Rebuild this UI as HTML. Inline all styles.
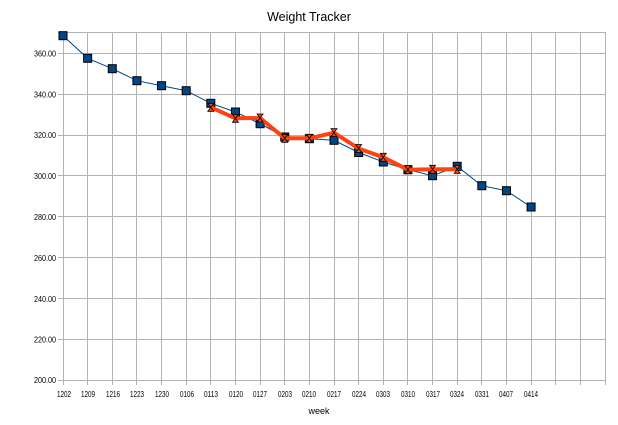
<!DOCTYPE html>
<html><head><meta charset="utf-8"><style>
html,body{margin:0;padding:0;background:#fff;}
svg{display:block;}
text{font-family:"Liberation Sans",sans-serif;fill:#000;}
</style></head><body>
<svg width="618" height="425" viewBox="0 0 618 425" xmlns="http://www.w3.org/2000/svg">
<rect width="618" height="425" fill="#fff"/>
<text x="309" y="21" font-size="12.5" text-anchor="middle">Weight Tracker</text>
<g stroke="#b3b3b3" stroke-width="1" fill="none" shape-rendering="crispEdges">
<!-- horizontal gridlines -->
<line x1="58" y1="32.5" x2="605" y2="32.5"/>
<line x1="58" y1="53.5" x2="605" y2="53.5"/>
<line x1="58" y1="94.5" x2="605" y2="94.5"/>
<line x1="58" y1="135.5" x2="605" y2="135.5"/>
<line x1="58" y1="175.5" x2="605" y2="175.5"/>
<line x1="58" y1="216.5" x2="605" y2="216.5"/>
<line x1="58" y1="257.5" x2="605" y2="257.5"/>
<line x1="58" y1="298.5" x2="605" y2="298.5"/>
<line x1="58" y1="339.5" x2="605" y2="339.5"/>
<line x1="58" y1="380.5" x2="605" y2="380.5"/>
<!-- vertical gridlines -->
<line x1="63.5" y1="32" x2="63.5" y2="385"/>
<line x1="87.5" y1="32" x2="87.5" y2="385"/>
<line x1="112.5" y1="32" x2="112.5" y2="385"/>
<line x1="136.5" y1="32" x2="136.5" y2="385"/>
<line x1="161.5" y1="32" x2="161.5" y2="385"/>
<line x1="186.5" y1="32" x2="186.5" y2="385"/>
<line x1="210.5" y1="32" x2="210.5" y2="385"/>
<line x1="235.5" y1="32" x2="235.5" y2="385"/>
<line x1="260.5" y1="32" x2="260.5" y2="385"/>
<line x1="284.5" y1="32" x2="284.5" y2="385"/>
<line x1="309.5" y1="32" x2="309.5" y2="385"/>
<line x1="334.5" y1="32" x2="334.5" y2="385"/>
<line x1="358.5" y1="32" x2="358.5" y2="385"/>
<line x1="383.5" y1="32" x2="383.5" y2="385"/>
<line x1="407.5" y1="32" x2="407.5" y2="385"/>
<line x1="432.5" y1="32" x2="432.5" y2="385"/>
<line x1="457.5" y1="32" x2="457.5" y2="385"/>
<line x1="481.5" y1="32" x2="481.5" y2="385"/>
<line x1="506.5" y1="32" x2="506.5" y2="385"/>
<line x1="531.5" y1="32" x2="531.5" y2="385"/>
<line x1="555.5" y1="32" x2="555.5" y2="385"/>
<line x1="580.5" y1="32" x2="580.5" y2="385"/>
<line x1="605.5" y1="32" x2="605.5" y2="385"/>
</g>
<!-- y labels -->
<g font-size="8" text-anchor="end">
<text x="56" y="56.5" textLength="22" lengthAdjust="spacingAndGlyphs">360.00</text>
<text x="56" y="97.5" textLength="22" lengthAdjust="spacingAndGlyphs">340.00</text>
<text x="56" y="138" textLength="22" lengthAdjust="spacingAndGlyphs">320.00</text>
<text x="56" y="179" textLength="22" lengthAdjust="spacingAndGlyphs">300.00</text>
<text x="56" y="220" textLength="22" lengthAdjust="spacingAndGlyphs">280.00</text>
<text x="56" y="261" textLength="22" lengthAdjust="spacingAndGlyphs">260.00</text>
<text x="56" y="302" textLength="22" lengthAdjust="spacingAndGlyphs">240.00</text>
<text x="56" y="342.5" textLength="22" lengthAdjust="spacingAndGlyphs">220.00</text>
<text x="56" y="383" textLength="22" lengthAdjust="spacingAndGlyphs">200.00</text>
</g>
<!-- x labels -->
<g font-size="8" text-anchor="middle">
<text x="64" y="397" textLength="14" lengthAdjust="spacingAndGlyphs">1202</text>
<text x="88" y="397" textLength="14" lengthAdjust="spacingAndGlyphs">1209</text>
<text x="113" y="397" textLength="14" lengthAdjust="spacingAndGlyphs">1216</text>
<text x="137" y="397" textLength="14" lengthAdjust="spacingAndGlyphs">1223</text>
<text x="162" y="397" textLength="14" lengthAdjust="spacingAndGlyphs">1230</text>
<text x="187" y="397" textLength="14" lengthAdjust="spacingAndGlyphs">0106</text>
<text x="211" y="397" textLength="14" lengthAdjust="spacingAndGlyphs">0113</text>
<text x="236" y="397" textLength="14" lengthAdjust="spacingAndGlyphs">0120</text>
<text x="260" y="397" textLength="14" lengthAdjust="spacingAndGlyphs">0127</text>
<text x="285" y="397" textLength="14" lengthAdjust="spacingAndGlyphs">0203</text>
<text x="309" y="397" textLength="14" lengthAdjust="spacingAndGlyphs">0210</text>
<text x="334" y="397" textLength="14" lengthAdjust="spacingAndGlyphs">0217</text>
<text x="359" y="397" textLength="14" lengthAdjust="spacingAndGlyphs">0224</text>
<text x="383" y="397" textLength="14" lengthAdjust="spacingAndGlyphs">0303</text>
<text x="408" y="397" textLength="14" lengthAdjust="spacingAndGlyphs">0310</text>
<text x="433" y="397" textLength="14" lengthAdjust="spacingAndGlyphs">0317</text>
<text x="457" y="397" textLength="14" lengthAdjust="spacingAndGlyphs">0324</text>
<text x="482" y="397" textLength="14" lengthAdjust="spacingAndGlyphs">0331</text>
<text x="506" y="397" textLength="14" lengthAdjust="spacingAndGlyphs">0407</text>
<text x="531" y="397" textLength="14" lengthAdjust="spacingAndGlyphs">0414</text>
</g>
<text x="319" y="414" font-size="9" text-anchor="middle">week</text>
<!-- blue series -->
<polyline fill="none" stroke="#004586" stroke-width="1" points="63,35.7 87.64,58.3 112.27,68.7 136.91,80.7 161.55,85.7 186.18,90.7 210.82,103.3 235.45,112 260.09,123.7 284.73,137 309.36,138.7 334,140.3 358.64,152.5 383.27,162 407.91,169.7 432.55,175.7 457.18,166.3 481.82,185.7 506.45,190.7 531.09,207"/>
<g fill="#004586" stroke="#000" stroke-width="1">
<rect x="59" y="31.7" width="8" height="8"/>
<rect x="83.64" y="54.3" width="8" height="8"/>
<rect x="108.27" y="64.7" width="8" height="8"/>
<rect x="132.91" y="76.7" width="8" height="8"/>
<rect x="157.55" y="81.7" width="8" height="8"/>
<rect x="182.18" y="86.7" width="8" height="8"/>
<rect x="206.82" y="99.3" width="8" height="8"/>
<rect x="231.45" y="108" width="8" height="8"/>
<rect x="256.09" y="119.7" width="8" height="8"/>
<rect x="280.73" y="133" width="8" height="8"/>
<rect x="305.36" y="134.7" width="8" height="8"/>
<rect x="330" y="136.3" width="8" height="8"/>
<rect x="354.64" y="148.5" width="8" height="8"/>
<rect x="379.27" y="158" width="8" height="8"/>
<rect x="403.91" y="165.7" width="8" height="8"/>
<rect x="428.55" y="171.7" width="8" height="8"/>
<rect x="453.18" y="162.3" width="8" height="8"/>
<rect x="477.82" y="181.7" width="8" height="8"/>
<rect x="502.45" y="186.7" width="8" height="8"/>
<rect x="527.09" y="203" width="8" height="8"/>
</g>
<!-- orange series -->
<polyline fill="none" stroke="#ff420e" stroke-width="4" stroke-linejoin="round" points="210.82,107.3 235.45,118.3 260.09,118 284.73,138.3 309.36,138.3 334,132.7 358.64,148.5 383.27,157.3 407.91,169.7 432.55,169.3 457.18,169.3"/>
<g fill="#ff420e" stroke="#000" stroke-width="0.8">
<path d="M-3,-4 H3 L-3,4 H3 Z" transform="translate(210.82,107.3)"/>
<path d="M-3,-4 H3 L-3,4 H3 Z" transform="translate(235.45,118.3)"/>
<path d="M-3,-4 H3 L-3,4 H3 Z" transform="translate(260.09,118)"/>
<path d="M-3,-4 H3 L-3,4 H3 Z" transform="translate(284.73,138.3)"/>
<path d="M-3,-4 H3 L-3,4 H3 Z" transform="translate(309.36,138.3)"/>
<path d="M-3,-4 H3 L-3,4 H3 Z" transform="translate(334,132.7)"/>
<path d="M-3,-4 H3 L-3,4 H3 Z" transform="translate(358.64,148.5)"/>
<path d="M-3,-4 H3 L-3,4 H3 Z" transform="translate(383.27,157.3)"/>
<path d="M-3,-4 H3 L-3,4 H3 Z" transform="translate(407.91,169.7)"/>
<path d="M-3,-4 H3 L-3,4 H3 Z" transform="translate(432.55,169.3)"/>
<path d="M-3,-4 H3 L-3,4 H3 Z" transform="translate(457.18,169.3)"/>
</g>
</svg>
</body></html>
